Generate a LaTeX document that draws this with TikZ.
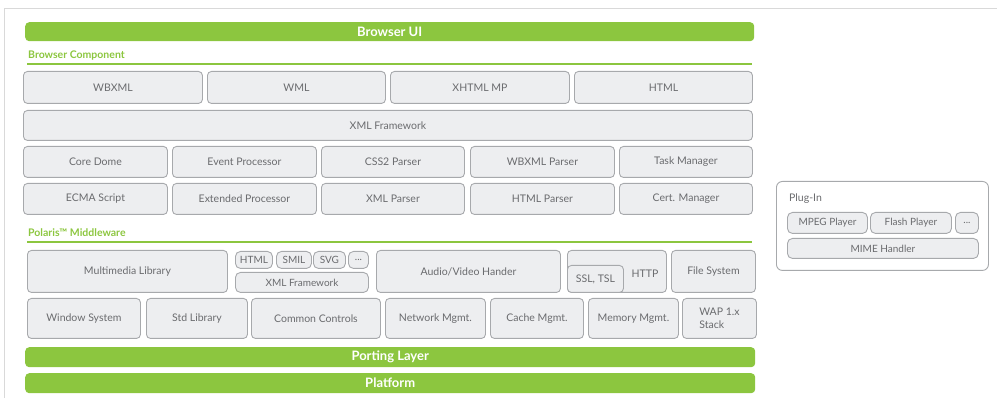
\documentclass[tikz,border=0pt]{standalone}
\usepackage{fontspec}
\setmainfont{Lato}
\usepackage{tikz}
\usetikzlibrary{positioning}

\definecolor{polgreen}{HTML}{8CC63F}
\definecolor{boxfill}{HTML}{EDEEF0}
\definecolor{boxline}{HTML}{A7A9AC}
\definecolor{boxtext}{HTML}{6A6B6E}

\begin{document}
\begin{tikzpicture}[
  x=1pt, y=-1pt,
  comp/.style 2 args={draw=boxline, fill=boxfill, line width=0.9pt,
    rounded corners=4pt, anchor=north west, inner sep=0pt,
    minimum width=#1pt, minimum height=#2pt, align=center,
    text=boxtext, font=\fontsize{10.5}{13}\selectfont},
  pill/.style 2 args={comp={#1}{#2}, rounded corners=5pt,
    font=\fontsize{10}{12}\selectfont},
  bar/.style={fill=polgreen, rounded corners=4pt, anchor=north west,
    inner sep=0pt, minimum width=730pt, minimum height=20pt,
    text=white, font=\fontsize{13}{14}\selectfont\bfseries},
  sect/.style={anchor=base west, inner sep=0pt, text=polgreen,
    font=\fontsize{10.5}{12}\selectfont\bfseries},
  rule/.style={polgreen, line width=1.6pt},
  txt/.style={inner sep=0pt, text=boxtext, font=\fontsize{10.5}{12}\selectfont},
]
\useasboundingbox (0,0) rectangle (997,398);

% Frame
\draw[black!15, line width=1.5pt] (4.5,398) -- (4.5,8.5) -- (997,8.5);

% Browser UI
\node[bar, minimum width=729pt, minimum height=19pt] (ui) at (25,22) {Browser UI};

% Browser component
\node[sect] (bclbl) at (28,59) {Browser Component};
\draw[rule] (27,64) -- (752,64);

\node[comp={179}{32}] (wbxml) at (23,71) {WBXML};
\node[comp={178}{32}] (wml) at (207,71) {WML};
\node[comp={179}{32}] (xhtml) at (390,71) {XHTML MP};
\node[comp={178}{32}] (html) at (574,71) {HTML};

\node[comp={729}{30}] (xmlfw) at (23,110) {XML Framework};

\node[comp={144}{31}] (dome) at (23,146) {Core Dome};
\node[comp={144}{31}] (event) at (172,146) {Event Processor};
\node[comp={143}{31}] (css) at (321,146) {CSS2 Parser};
\node[comp={144}{31}] (wbxmlp) at (470,146) {WBXML Parser};
\node[comp={133}{31}] (task) at (619,146) {Task Manager};

\node[comp={144}{31}] (ecma) at (23,183) {ECMA Script};
\node[comp={144}{31}] (extproc) at (172,183) {Extended Processor};
\node[comp={143}{31}] (xmlp) at (321,183) {XML Parser};
\node[comp={144}{31}] (htmlp) at (470,183) {HTML Parser};
\node[comp={133}{31}] (cert) at (619,183) {Cert. Manager};

% Middleware
\node[sect] (mwlbl) at (28,237) {Polaris\texttrademark\ Middleware};
\draw[rule] (27,242) -- (752,242);

\node[comp={200}{42}] (mmlib) at (27,250) {Multimedia Library};
\node[pill={37}{17}] (mhtml) at (235,251) {HTML};
\node[pill={35}{17}] (msmil) at (276,251) {SMIL};
\node[pill={32}{17}] (msvg) at (313,251) {SVG};
\node[pill={20}{17}] (mmore) at (348,251) {...};
\node[pill={133}{20}] (mxml) at (235,272) {XML Framework};
\node[comp={184}{42}] (avh) at (376,250) {Audio/Video Hander};
\node[comp={99}{42}] (http) at (567,250) {};
\node[txt] (httplbl) at (645,274) {HTTP};
\node[comp={56}{27}] (ssl) at (567,265) {SSL, TSL};
\node[comp={84}{42}] (fs) at (671,250) {File System};

\node[comp={113}{40}] (win) at (27,298) {Window System};
\node[comp={101}{40}] (stdlib) at (146,298) {Std Library};
\node[comp={129}{40}] (ctrl) at (251,298) {Common Controls};
\node[comp={100}{40}] (net) at (385,298) {Network Mgmt.};
\node[comp={93}{40}] (cache) at (490,298) {Cache Mgmt.};
\node[comp={90}{40}] (mem) at (588,298) {Memory Mgmt.};
\node[comp={74}{40}, align=left] (wap) at (682,298) {WAP 1.x\\Stack};

% Lower layers
\node[bar] (port) at (25,347) {Porting Layer};
\node[bar] (plat) at (25,373) {Platform};

% Plug-in
\node[comp={212}{89}, fill=white, rounded corners=6pt] (plugin) at (776,181) {};
\node[txt, anchor=west] (pllbl) at (789,199) {Plug-In};
\node[pill={80}{21}] (mpeg) at (787,212) {MPEG Player};
\node[pill={81}{21}] (flash) at (870,212) {Flash Player};
\node[pill={23}{21}] (plmore) at (955,212) {...};
\node[pill={191}{20}] (mime) at (787,238) {MIME Handler};

\end{tikzpicture}
\end{document}
